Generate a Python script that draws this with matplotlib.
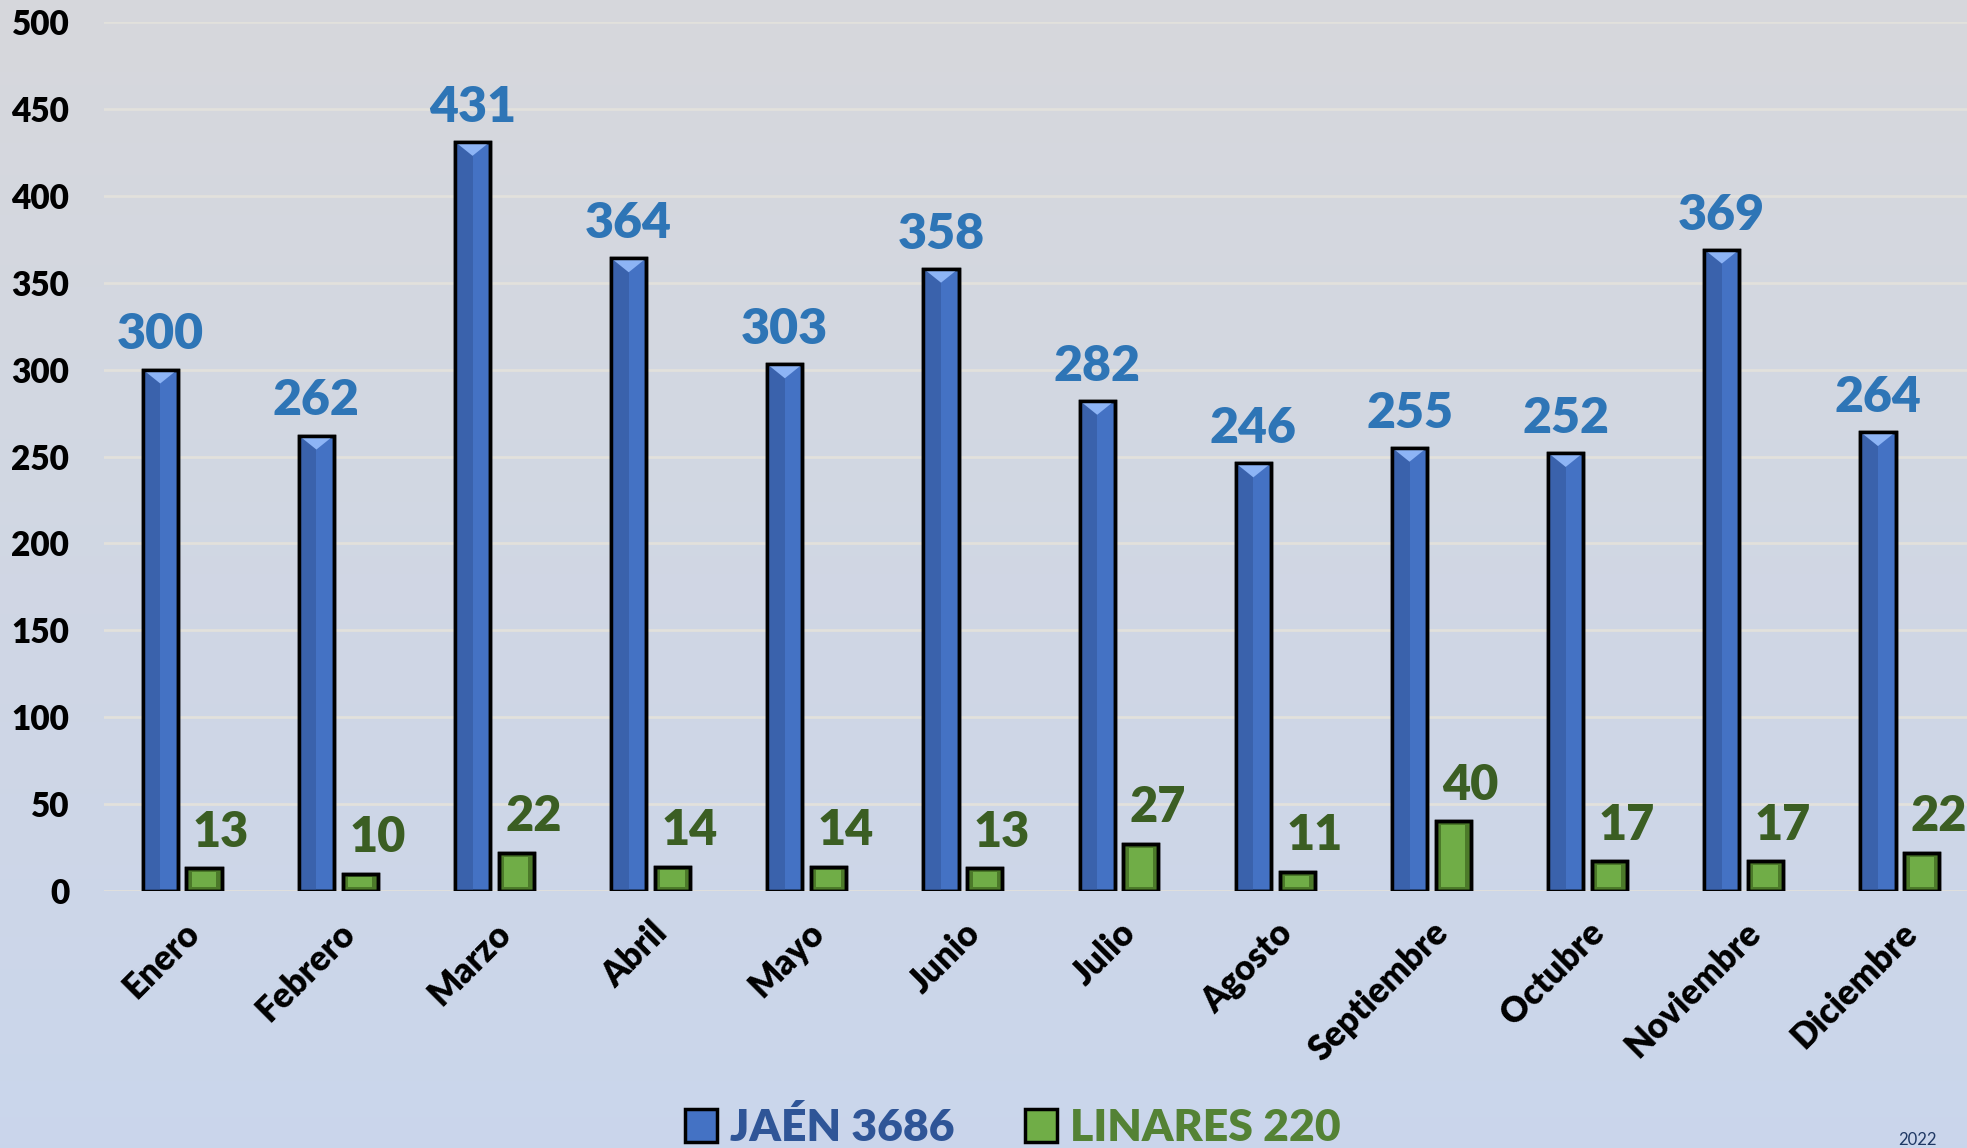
import matplotlib
matplotlib.use("Agg")
import matplotlib.pyplot as plt
import numpy as np
from matplotlib.patches import Polygon, Rectangle

months = ["Enero", "Febrero", "Marzo", "Abril", "Mayo", "Junio", "Julio",
          "Agosto", "Septiembre", "Octubre", "Noviembre", "Diciembre"]
jaen = [300, 262, 431, 364, 303, 358, 282, 246, 255, 252, 369, 264]
linares = [13, 10, 22, 14, 14, 13, 27, 11, 40, 17, 17, 22]
legend_labels = ["JAÉN 3686", "LINARES 220"]
yticks = [0, 50, 100, 150, 200, 250, 300, 350, 400, 450, 500]

FONT = ["Lato", "DejaVu Sans"]
plt.rcParams['font.family'] = FONT

W, H = 1967, 1148
fig = plt.figure(figsize=(W / 100, H / 100), dpi=100)

# background gradient
bg = fig.add_axes([0, 0, 1, 1], zorder=-10)
top = np.array([0.843, 0.847, 0.863])
bot = np.array([0.792, 0.839, 0.925])
t = np.linspace(0, 1, 256)[:, None]
grad = top[None, :] * (1 - t) + bot[None, :] * t
bg.imshow(grad[:, None, :].repeat(2, axis=1), aspect='auto', extent=[0, 1, 0, 1])
bg.axis('off')

ax = fig.add_axes([104 / W, 1 - 891 / H, 1 - 104 / W, (891 - 22) / H])
ax.set_facecolor('none')
x = np.arange(len(months))
bw = 0.225
off = 0.14
xb = x - off
xg = x + off

blue_dark = "#3A62AC"
blue_main = "#4472C4"
blue_tri = "#8DB4F5"
green_dark = "#4C7A2A"
green_main = "#70AD47"

ax.bar(xb, jaen, width=bw, color=blue_main, edgecolor="black", linewidth=2.5, zorder=3)
ax.bar(xb - bw / 4, jaen, width=bw / 2, color=blue_dark, linewidth=0, zorder=3.1)
tri_h = 8
for xi, v in zip(xb, jaen):
    ax.add_patch(Polygon([[xi - bw / 2 + 0.01, v - 0.6], [xi + bw / 2 - 0.01, v - 0.6],
                          [xi, v - tri_h]], closed=True, color=blue_tri, lw=0, zorder=3.2))
ax.bar(xb, jaen, width=bw, color='none', edgecolor="black", linewidth=2.5, zorder=3.3)

ax.bar(xg, linares, width=bw, color=green_dark, edgecolor="black", linewidth=2.5, zorder=3)
inset_x = 0.035
inset_y = 2.2
for xi, v in zip(xg, linares):
    ax.add_patch(Rectangle((xi - bw / 2 + inset_x, inset_y), bw - 2 * inset_x, v - 2 * inset_y,
                           color=green_main, lw=0, zorder=3.2))
ax.bar(xg, linares, width=bw, color='none', edgecolor="black", linewidth=2.5, zorder=3.3)

for xi, v in zip(xb, jaen):
    ax.text(xi, v + 7, str(v), ha='center', va='bottom', fontsize=36, fontweight='heavy',
            color="#2E75B6", zorder=5)
for xi, v in zip(xg, linares):
    ax.text(xi + 0.11, v + 8, str(v), ha='center', va='bottom', fontsize=35, fontweight='heavy',
            color="#3B5E23", zorder=5)

ax.set_ylim(0, 500)
ax.set_xlim(-0.5, 11.43)
ax.set_yticks(yticks)
ax.set_yticklabels([str(v) for v in yticks], fontsize=24, fontweight='heavy')
ax.set_xticks(x)
ax.set_xticklabels(months, rotation=45, ha='right', rotation_mode='anchor',
                   fontsize=25, fontweight='heavy')
ax.tick_params(axis='both', length=0)
ax.tick_params(axis='y', pad=25)
ax.tick_params(axis='x', pad=18)
for lab in ax.get_xticklabels():
    lab.set_x(lab.get_position()[0])
ax.grid(axis='y', color="#e2e1dc", linewidth=2, zorder=0)
for s in ax.spines.values():
    s.set_visible(False)

handles = [Rectangle((0, 0), 1, 1, facecolor=blue_main, edgecolor='black', lw=2.5),
           Rectangle((0, 0), 1, 1, facecolor=green_main, edgecolor='black', lw=2.5)]
leg = fig.legend(handles, legend_labels, loc='center', bbox_to_anchor=(0.515, 0.018),
                 ncol=2, frameon=False, handlelength=0.7, handleheight=0.75,
                 handletextpad=0.3, columnspacing=1.6,
                 prop={'family': FONT, 'size': 32, 'weight': 'heavy'})
leg.get_texts()[0].set_color("#2F5597")
leg.get_texts()[1].set_color("#548235")

fig.text(0.975, 0.0, "2022", ha='center', va='bottom', fontsize=12, color="#1F3864")

fig.savefig("out.png", dpi=100)
